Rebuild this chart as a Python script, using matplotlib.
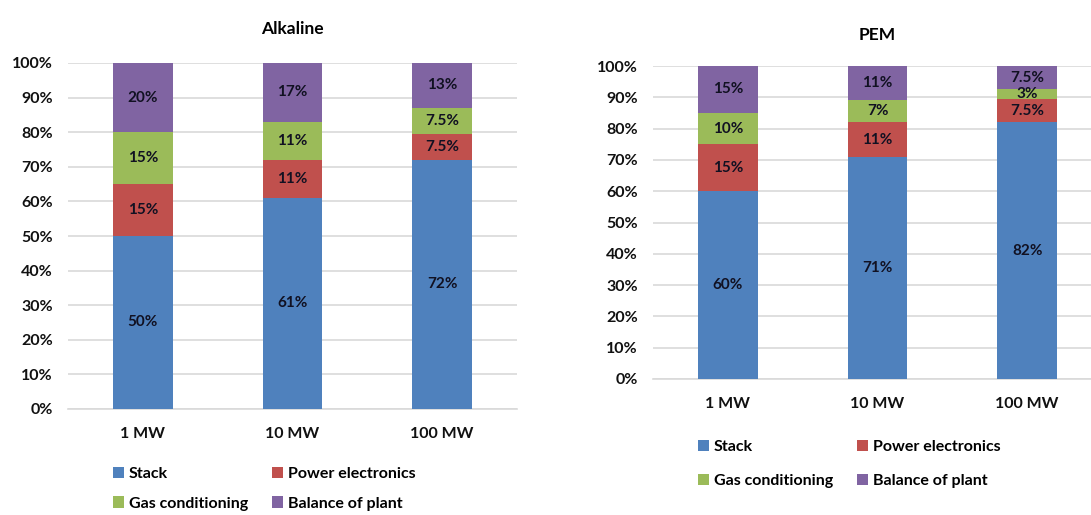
"""Electrolyser system cost breakdown by plant size: Alkaline vs PEM."""

import matplotlib.pyplot as plt
from matplotlib.patches import Patch

plt.rcParams["font.family"] = ["Lato", "DejaVu Sans"]

SIZES = ["1 MW", "10 MW", "100 MW"]
COMPONENTS = ["Stack", "Power electronics", "Gas conditioning", "Balance of plant"]
COLORS = ["#4F81BD", "#C0504D", "#9BBB59", "#8064A2"]

# shares in percent, bottom to top
alk_stack = [50, 61, 72]
alk_power = [15, 11, 7.5]
alk_gas = [15, 11, 7.5]
alk_bop = [20, 17, 13]

pem_stack = [60, 71, 82]
pem_power = [15, 11, 7.5]
pem_gas = [10, 7, 3]
pem_bop = [15, 11, 7.5]

W, H = 1091, 515
WEIGHT = "bold"


def fmt(v: float) -> str:
    return f"{v:g}%"


def draw_panel(fig, rect, title, series, legend_xy, title_pad, row_gap):
    ax = fig.add_axes(rect)
    x = list(range(len(SIZES)))
    bottom = [0.0] * len(SIZES)
    for vals, color in zip(series, COLORS):
        ax.bar(x, vals, bottom=bottom, width=0.4, color=color, zorder=3)
        for xi, b, v in zip(x, bottom, vals):
            ax.text(xi, b + v / 2, fmt(v), ha="center", va="center",
                    fontsize=11, fontweight=WEIGHT, color="#111122", zorder=4)
        bottom = [b + v for b, v in zip(bottom, vals)]

    ax.set_xlim(-0.5, 2.5)
    ax.set_ylim(0, 100)
    ax.set_yticks(range(0, 101, 10))
    ax.set_yticklabels([f"{t}%" for t in range(0, 101, 10)], fontweight=WEIGHT)
    ax.set_xticks(x)
    ax.set_xticklabels(SIZES, fontweight=WEIGHT)
    ax.tick_params(axis="both", length=0, labelsize=11.5, labelcolor="#111111")
    ax.tick_params(axis="y", pad=11)
    ax.tick_params(axis="x", pad=13)
    ax.grid(axis="y", color="#D9D9D9", linewidth=1.2, zorder=0)
    for side in ("left", "right", "top"):
        ax.spines[side].set_visible(False)
    ax.spines["bottom"].set_color("#D9D9D9")
    ax.spines["bottom"].set_linewidth(1.2)
    ax.set_title(title, fontsize=12.5, fontweight=WEIGHT, pad=title_pad)

    # legend fills column-wise; order so rows read Stack/Power, Gas/Balance
    order = [0, 2, 1, 3]
    handles = [Patch(facecolor=COLORS[i], edgecolor="none") for i in order]
    labels = [COMPONENTS[i] for i in order]
    fig.legend(handles, labels, loc="upper left",
               bbox_to_anchor=(legend_xy[0] / W, 1 - legend_xy[1] / H),
               ncol=2, frameon=False, handlelength=0.7,
               handleheight=0.7, handletextpad=0.3, labelspacing=row_gap,
               columnspacing=1.5, borderpad=0, borderaxespad=0,
               prop={"size": 11.5, "weight": WEIGHT})
    return ax


fig = plt.figure(figsize=(W / 100, H / 100), dpi=100)
fig.patch.set_facecolor("white")

draw_panel(fig, [68 / W, 106 / H, 449 / W, 346 / H], "Alkaline",
           [alk_stack, alk_power, alk_gas, alk_bop], (113, 467), 21, 0.95)
draw_panel(fig, [653 / W, 136 / H, 449 / W, 313 / H], "PEM",
           [pem_stack, pem_power, pem_gas, pem_bop], (698, 440), 19, 1.25)

fig.savefig("out.png", dpi=100)
